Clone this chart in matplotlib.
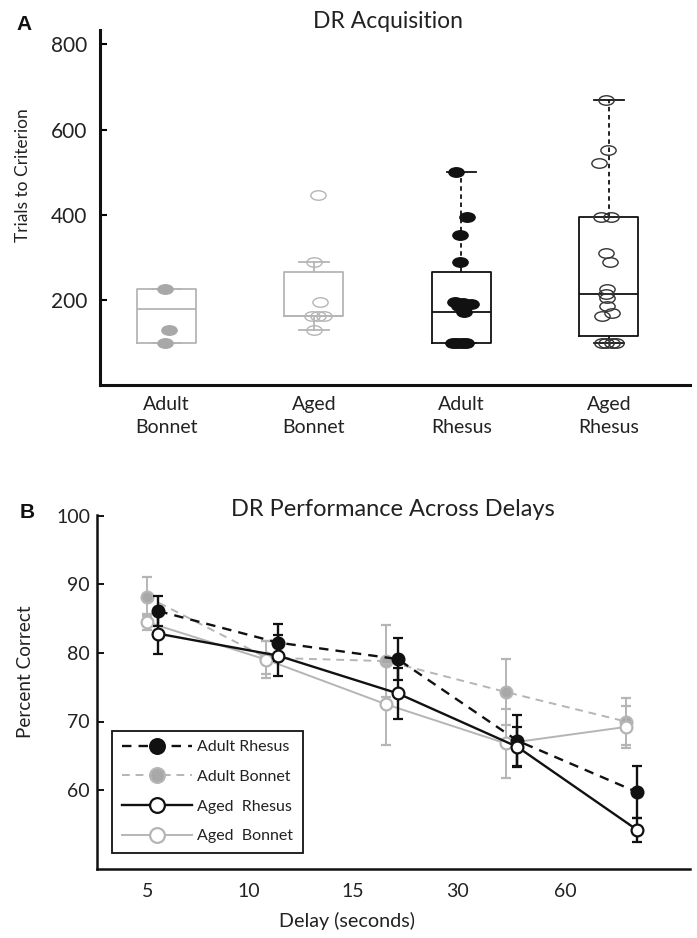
import numpy as np
import matplotlib
matplotlib.use("Agg")
import matplotlib.pyplot as plt
from matplotlib.path import Path

# ---------------- Panel A data ----------------
groups = ["Adult\nBonnet", "Aged\nBonnet", "Adult\nRhesus", "Aged\nRhesus"]
box_q1 = [98, 162, 98, 116]
box_med = [178, 162, 172, 213]
box_q3 = [225, 265, 265, 395]
box_whislo = [98, 129, 98, 98]
box_whishi = [225, 288, 500, 669]

adult_bonnet_pts = [225, 129, 98]
aged_bonnet_pts = [446, 288, 195, 162, 162, 162, 129]
adult_rhesus_pts = [500, 395, 352, 289, 195, 193, 190, 185, 172, 98, 98, 98, 98]
aged_rhesus_pts = [669, 553, 522, 395, 395, 309, 288, 225, 213, 205, 186, 170, 162, 98, 98, 98, 98]

jitter_adult_bonnet = [-0.01, 0.02, -0.01]
jitter_aged_bonnet = [0.025, 0.0, 0.04, -0.015, 0.03, 0.07, 0.0]
jitter_adult_rhesus = [-0.035, 0.04, -0.01, -0.01, -0.04, 0.01, 0.065, -0.015, 0.02, -0.06, -0.03, 0.005, 0.03]
jitter_aged_rhesus = [-0.02, -0.005, -0.07, -0.055, 0.015, -0.02, 0.005, -0.015, -0.02, -0.01,
                      -0.01, 0.02, -0.05, -0.05, -0.02, 0.02, 0.05]

# ---------------- Panel B data ----------------
delays = ["5", "10", "15", "30", "60"]
adult_rhesus = [86.1, 81.5, 79.1, 67.2, 59.7]
adult_rhesus_err = [2.2, 2.7, 3.1, 3.7, 3.8]
adult_bonnet = [88.2, 79.3, 78.8, 74.3, 70.0]
adult_bonnet_err = [2.8, 2.4, 5.3, 4.8, 3.4]
aged_rhesus = [82.8, 79.6, 74.1, 66.3, 54.2]
aged_rhesus_err = [3.0, 3.0, 3.7, 2.9, 1.7]
aged_bonnet = [84.5, 79.0, 72.5, 66.8, 69.2]
aged_bonnet_err = [1.1, 2.7, 5.9, 5.0, 3.0]

FONT = "Lato"
plt.rcParams["font.family"] = [FONT, "DejaVu Sans"]
TXT = "#222222"
GRAY = "#b5b5b5"
GRAYF = "#a8a8a8"
BLK = "#111111"

fig = plt.figure(figsize=(6.97, 9.38), dpi=100)

# ---------- Panel A ----------
axA = fig.add_axes([100 / 697, (938 - 385) / 938, 590 / 697, 355 / 938])
pos = np.arange(1, 5)
stats = []
for i in range(4):
    stats.append(dict(q1=box_q1[i], med=box_med[i], q3=box_q3[i],
                      whislo=box_whislo[i], whishi=box_whishi[i], fliers=[]))
box_cols = [GRAY, GRAY, BLK, BLK]
for i in range(4):
    c = box_cols[i]
    axA.bxp([stats[i]], positions=[pos[i]], widths=0.40, showfliers=False,
            boxprops=dict(color=c, lw=1.3),
            medianprops=dict(color=c, lw=1.3),
            whiskerprops=dict(color=c, lw=1.3, ls=(0, (2.5, 2)) if i >= 2 else "-"),
            capprops=dict(color=c, lw=1.3),
            capwidths=0.2)

# elliptical marker
circ = Path.unit_circle()
ell = Path(circ.vertices * np.array([1.0, 0.62]), circ.codes)

def pts(ax, i, vals, jit, face, edge):
    x = pos[i] + np.array(jit)
    ax.plot(x, vals, ls="none", marker=ell, markersize=11, markerfacecolor=face,
            markeredgecolor=edge, markeredgewidth=1.0, zorder=3)

pts(axA, 0, adult_bonnet_pts, jitter_adult_bonnet, GRAYF, GRAYF)
pts(axA, 1, aged_bonnet_pts, jitter_aged_bonnet, "none", GRAY)
pts(axA, 2, adult_rhesus_pts, jitter_adult_rhesus, BLK, BLK)
pts(axA, 3, aged_rhesus_pts, jitter_aged_rhesus, "none", "#333333")

axA.set_xlim(0.55, 4.55)
axA.set_ylim(0, 834)
axA.set_yticks([200, 400, 600, 800])
axA.set_xticks(pos)
axA.set_xticklabels(groups, fontsize=14, color=TXT, linespacing=1.45)
axA.tick_params(axis="x", length=0, pad=8)
axA.tick_params(axis="y", direction="in", length=5, width=1.5, labelsize=15, labelcolor=TXT, pad=9)
for s in ["top", "right"]:
    axA.spines[s].set_visible(False)
for s in ["left", "bottom"]:
    axA.spines[s].set_linewidth(2.2)
    axA.spines[s].set_color(BLK)
axA.set_ylabel("Trials to Criterion", fontsize=12.5, color=TXT)
axA.yaxis.set_label_coords((31 - 100) / 590, (385 - 175) / 355)
fig.text(388 / 697, 1 - 28 / 938, "DR Acquisition", ha="center", va="baseline", fontsize=16.5, color=TXT)
fig.text(24 / 697, 1 - 24 / 938, "A", ha="center", va="center", fontsize=15, fontweight="bold",
         family="Liberation Sans", color=BLK)

# ---------- Panel B ----------
axB = fig.add_axes([97 / 697, (938 - 869) / 938, 593 / 697, 354 / 938])
xc = np.arange(len(delays))
off = 0.048

def series(ax, x, y, e, color, face, ls, lw, z, label):
    cont = ax.errorbar(x, y, yerr=e, color=color, ls=ls, lw=lw, marker="o", markersize=8.5,
                       markerfacecolor=face, markeredgecolor=color, markeredgewidth=1.6,
                       ecolor=color, elinewidth=lw, capsize=3.5, capthick=lw, zorder=z, label=label)
    return cont[0]

h_ab = series(axB, xc - off, adult_bonnet, adult_bonnet_err, GRAY, GRAYF, (0, (4, 3)), 1.4, 2, "Adult Bonnet")
h_gb = series(axB, xc - off, aged_bonnet, aged_bonnet_err, GRAY, "white", "-", 1.4, 2.5, "Aged  Bonnet")
h_ar = series(axB, xc + off, adult_rhesus, adult_rhesus_err, BLK, BLK, (0, (4, 3)), 1.7, 4, "Adult Rhesus")
h_gr = series(axB, xc + off, aged_rhesus, aged_rhesus_err, BLK, "white", "-", 1.7, 4.5, "Aged  Rhesus")

axB.set_xlim(-0.464, 4.49)
axB.set_ylim(48.5, 100.1)
axB.set_yticks([60, 70, 80, 90, 100])
axB.set_xticks([-0.04, 0.80, 1.67, 2.55, 3.45])
axB.set_xticklabels(delays)
axB.tick_params(axis="x", length=0, pad=10, labelsize=14, labelcolor=TXT)
axB.tick_params(axis="y", direction="in", length=5, width=1.3, labelsize=14, labelcolor=TXT, pad=5)
for s in ["top", "right"]:
    axB.spines[s].set_visible(False)
for s in ["left", "bottom"]:
    axB.spines[s].set_linewidth(1.8)
    axB.spines[s].set_color(BLK)
axB.set_ylabel("Percent Correct", fontsize=13.6, color=TXT)
axB.yaxis.set_label_coords((34 - 97) / 593, (869 - 672) / 354)
fig.text(347 / 697, 1 - 921 / 938, "Delay (seconds)", ha="center", va="center", fontsize=14.2, color=TXT)
fig.text(393 / 697, 1 - 516 / 938, "DR Performance Across Delays", ha="center", va="baseline",
         fontsize=17, color=TXT)
fig.text(27 / 697, 1 - 512 / 938, "B", ha="center", va="center", fontsize=15, fontweight="bold",
         family="Liberation Sans", color=BLK)

leg = axB.legend(handles=[h_ar, h_ab, h_gr, h_gb],
                 labels=["Adult Rhesus", "Adult Bonnet", "Aged  Rhesus", "Aged  Bonnet"],
                 loc="lower left", bbox_to_anchor=(15 / 593, 16 / 354), borderaxespad=0,
                 fontsize=11.5, handlelength=4.4, handletextpad=0.35, labelspacing=0.97,
                 markerscale=1.25, fancybox=False, framealpha=1, edgecolor=BLK,
                 borderpad=0.6, labelcolor=TXT)
leg.get_frame().set_linewidth(1.3)

fig.savefig("out.png", dpi=100)
